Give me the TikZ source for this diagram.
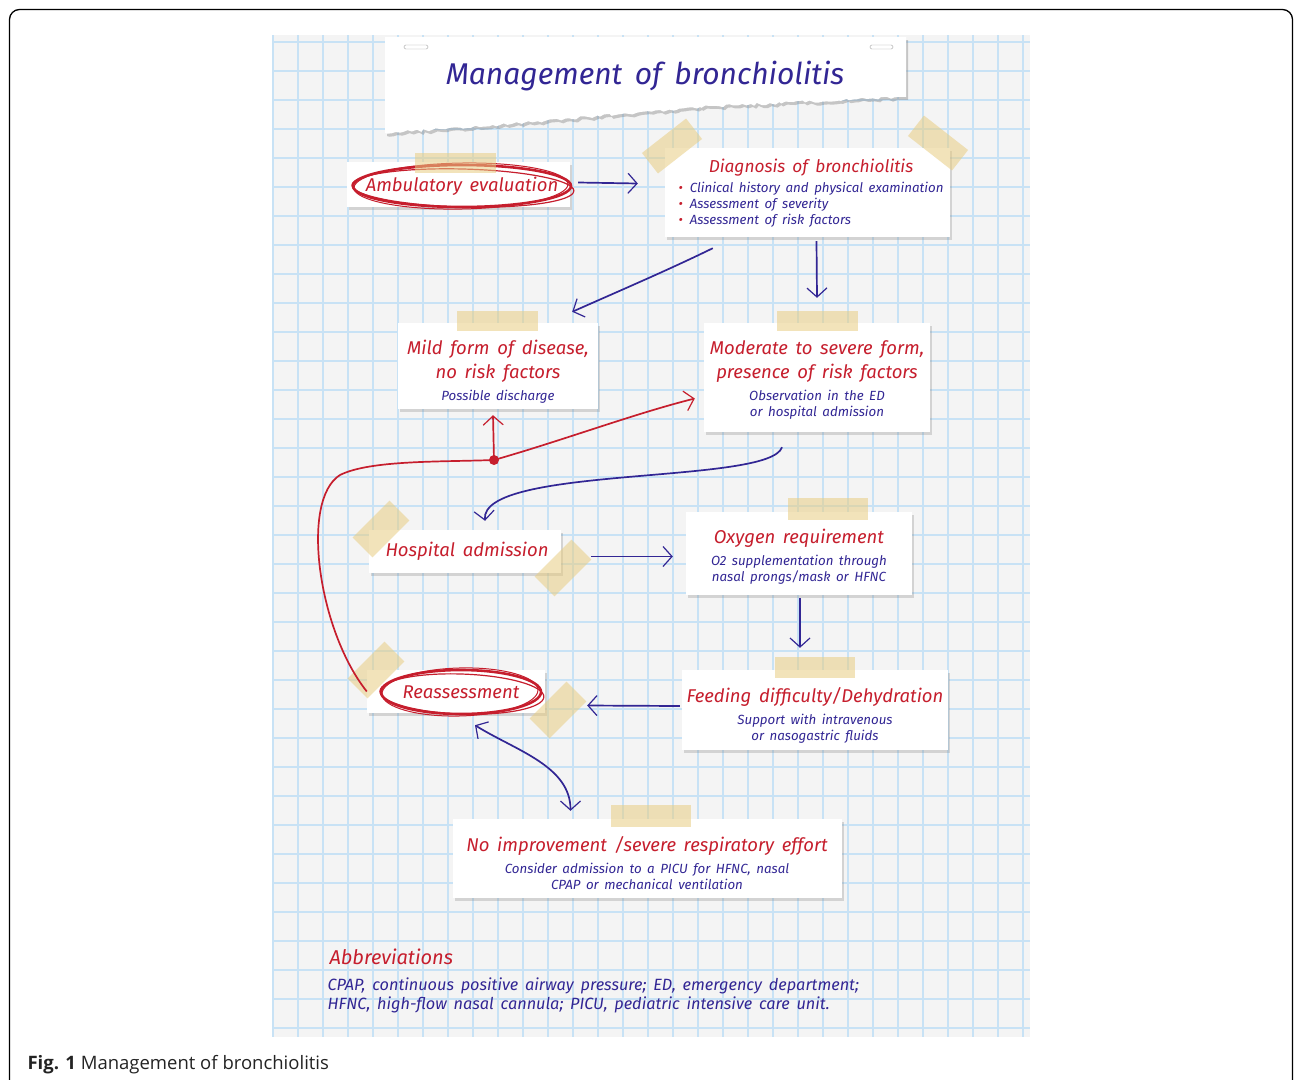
\documentclass[tikz,border=0pt]{standalone}
\usepackage{fontspec}
\setmainfont{Fira Sans}[WordSpace=1.6]
\newfontfamily\capfont{Open Sans}
\usetikzlibrary{arrows.meta,calc,shadows,decorations.pathmorphing}

\definecolor{inkblue}{RGB}{50,38,148}
\definecolor{inkred}{RGB}{198,30,45}
\definecolor{gridblue}{RGB}{200,226,245}
\definecolor{paperbg}{RGB}{244,244,244}
\definecolor{tapeyellow}{RGB}{232,205,130}
\definecolor{captext}{RGB}{35,35,35}

\newcommand\redhead{\fontsize{18.5}{23}\selectfont\itshape\color{inkred}}
\newcommand\bluenote{\fontsize{13.3}{16}\selectfont\itshape\color{inkblue}}
\newcommand\redbul{{\color{inkred}\textbullet}\hspace{7pt}}

\begin{document}
\begin{tikzpicture}[x=1pt, y=-1pt,
  paper/.style={fill=white, align=center, inner sep=0pt, font=\bluenote,
    drop shadow={shadow xshift=2pt, shadow yshift=-2.5pt, opacity=0.28}},
  tapestrip/.style={fill=tapeyellow, opacity=0.55},
  flow/.style={draw=inkblue, line width=1.7pt, -{Straight Barb[length=9pt, width=20pt, line width=1.2pt]}},
  backflow/.style={flow, draw=inkred},
  returnline/.style={draw=inkred, line width=1.7pt},
  ring/.style={draw=inkred, line width=2.6pt}]

\useasboundingbox (0,0) rectangle (1295,1079);

% frame and squared paper
\draw[line width=1.3pt, rounded corners=10pt] (9.5,1110) -- (9.5,9.5) -- (1292.5,9.5) -- (1292.5,1110);
\fill[paperbg] (273,35) rectangle (1030,1037);
\foreach \x in {273,298,...,1030} \draw[gridblue, line width=1.5pt] (\x,35) -- (\x,1037);
\foreach \y in {42,71,...,1037} \draw[gridblue, line width=1.5pt] (273,\y) -- (1030,\y);

% title sheet
\fill[white, drop shadow={shadow xshift=2pt, shadow yshift=-3pt, opacity=0.4}]
  (385,37) -- (906,37) -- (906,97)
  decorate[decoration={random steps, segment length=4pt, amplitude=1.4pt}] {-- (700,107) -- (500,125) -- (385,133)} -- cycle;
\draw[gray!70, fill=white, rounded corners=1.5pt] (404,45) rectangle (428,49);
\draw[gray!70, fill=white, rounded corners=1.5pt] (870,45) rectangle (893,49);
\node (title) at (645,76) {\fontsize{30}{36}\selectfont\itshape\color{inkblue}Management of bronchiolitis};

% sheets
\node[paper, minimum width=223, minimum height=45] (amb) at (458.5,184.5) {};
\node[paper, minimum width=285, minimum height=89] (diag) at (807.5,192.5) {};
\node[paper, minimum width=200, minimum height=86] (mild) at (498,366) {};
\node[paper, minimum width=226, minimum height=109] (mod) at (817,377.5) {};
\node[paper, minimum width=192, minimum height=43] (hosp) at (465,551.5) {};
\node[paper, minimum width=226, minimum height=83] (oxy) at (799,553.5) {};
\node[paper, minimum width=266, minimum height=80] (feed) at (815,710) {};
\node[paper, minimum width=178, minimum height=43] (reas) at (456,691.5) {};
\node[paper, minimum width=389, minimum height=79] (noimp) at (647.5,858.5) {};

% texts on the sheets
\node (ambtxt) at (462,186) {\redhead Ambulatory evaluation};
\node[align=center, font=\bluenote] (diagtxt) at (811,194) {{\fontsize{17.3}{20}\selectfont\itshape\color{inkred}Diagnosis of bronchiolitis}\\[4pt]
  \begin{tabular}{@{}l@{}}\redbul Clinical history and physical examination\\ \redbul Assessment of severity\\ \redbul Assessment of risk factors\end{tabular}};
\node[align=center, font=\bluenote] (mildtxt) at (498,372) {{\redhead Mild form of disease,}\\[5pt]{\redhead no risk factors}\\[6pt]Possible discharge};
\node[align=center, font=\bluenote] (modtxt) at (817,380) {{\redhead Moderate to severe form,}\\[5pt]{\redhead presence of risk factors}\\[6pt]Observation in the ED\\or hospital admission};
\node (hosptxt) at (467,551) {\redhead Hospital admission};
\node[align=center, font=\bluenote] (oxytxt) at (799,557) {{\redhead Oxygen requirement}\\[6pt]O2 supplementation through\\nasal prongs/mask or HFNC};
\node[align=center, font=\bluenote] (feedtxt) at (815,715) {{\redhead Feeding difficulty/Dehydration}\\[6pt]Support with intravenous\\or nasogastric fluids};
\node (reastxt) at (461,692) {\redhead Reassessment};
\node[align=center, font=\bluenote] (noimptxt) at (647,863) {{\redhead No improvement /severe respiratory effort}\\[6pt]Consider admission to a PICU for HFNC, nasal\\CPAP or mechanical ventilation};

% hand drawn rings
\draw[ring] (ambtxt) ellipse [x radius=109, y radius=21];
\draw[ring, line width=1.2pt, rotate around={-1.5:(ambtxt)}] ($(ambtxt)+(1,2)$) ellipse [x radius=111, y radius=19];
\draw[ring, line width=1pt, rotate around={1:(ambtxt)}] ($(ambtxt)+(-1,0)$) ellipse [x radius=107, y radius=23];
\draw[ring] (reastxt) ellipse [x radius=80, y radius=22];
\draw[ring, line width=1.2pt, rotate around={-2:(reastxt)}] ($(reastxt)+(1,2)$) ellipse [x radius=82, y radius=20];
\draw[ring, line width=1pt, rotate around={1.5:(reastxt)}] ($(reastxt)+(-1,0)$) ellipse [x radius=78, y radius=24];

% tapes
\fill[tapestrip] (415,153) rectangle (496,173);
\fill[tapestrip, rotate around={38:(672,146)}] (644,133) rectangle (700,159);
\fill[tapestrip, rotate around={-38:(938,143)}] (910,130) rectangle (966,156);
\fill[tapestrip] (457,311) rectangle (538,331);
\fill[tapestrip] (777,311) rectangle (858,331);
\fill[tapestrip, rotate around={45:(381,529)}] (355,515) rectangle (407,543);
\fill[tapestrip, rotate around={45:(563,568)}] (537,554) rectangle (589,582);
\fill[tapestrip] (788,498) rectangle (868,520);
\fill[tapestrip] (775,657) rectangle (855,678);
\fill[tapestrip, rotate around={45:(376,670)}] (350,656) rectangle (402,684);
\fill[tapestrip, rotate around={45:(558,710)}] (532,696) rectangle (584,724);
\fill[tapestrip] (611,805) rectangle (691,827);

% connectors
\draw[flow] ($(amb.east)+(8,-2)$) -- ($(diag.west)+(-27,-9)$);
\draw[flow] ($(diag.south west)+(48,11)$) .. controls +(-45,22) and +(45,-20) .. ($(mild.north east)+(-26,-11)$);
\draw[flow] ($(diag.south)+(9,4)$) -- ($(mod.north)+(0,-25)$);
\draw[flow] ($(mod.south)+(-35,15)$) .. controls (770,485) and (480,465) .. ($(hosp.north)+(20,-9)$);
\draw[flow] ($(hosp.east)+(30,5)$) -- ($(oxy.west)+(-13,3)$);
\draw[flow] ($(oxy.south)+(1,3)$) -- ($(feed.north)+(-15,-22)$);
\draw[flow] ($(feed.west)+(-2,-4)$) -- ($(reas.east)+(42,14)$);
\draw[flow, {Straight Barb[length=9pt, width=20pt, line width=1.2pt]}-{Straight Barb[length=9pt, width=20pt, line width=1.2pt]}]
  ($(reas.south)+(19,12)$) .. controls +(40,25) and +(0,-45) .. ($(noimp.north)+(-77,-8)$);

% way back after reassessment
\coordinate (hub) at (494,460);
\draw[returnline] (reas.west) .. controls (318,630) and (300,500) .. (340,475) .. controls (370,460) and (440,462) .. (hub);
\draw[backflow] (hub) -- ($(mild.south)+(-5,6)$);
\draw[backflow] (hub) .. controls +(70,-20) and +(-60,15) .. ($(mod.west)+(-9,21)$);
\fill[inkred] (hub) circle (5);

% abbreviations and caption
\node[anchor=base west] (abbrhead) at (326,964) {\fontsize{20}{24}\selectfont\itshape\color{inkred}Abbreviations};
\node[anchor=base west, align=left, font=\fontsize{16.3}{19}\selectfont\itshape\color{inkblue}] (abbrtxt) at (324,1009)
  {CPAP, continuous positive airway pressure; ED, emergency department;\\HFNC, high-flow nasal cannula; PICU, pediatric intensive care unit.};
\node[anchor=base west, font=\capfont\fontsize{18.5}{22}\selectfont\color{captext}] (caption) at (24,1069) {\textbf{Fig. 1} Management of bronchiolitis};

\end{tikzpicture}
\end{document}
